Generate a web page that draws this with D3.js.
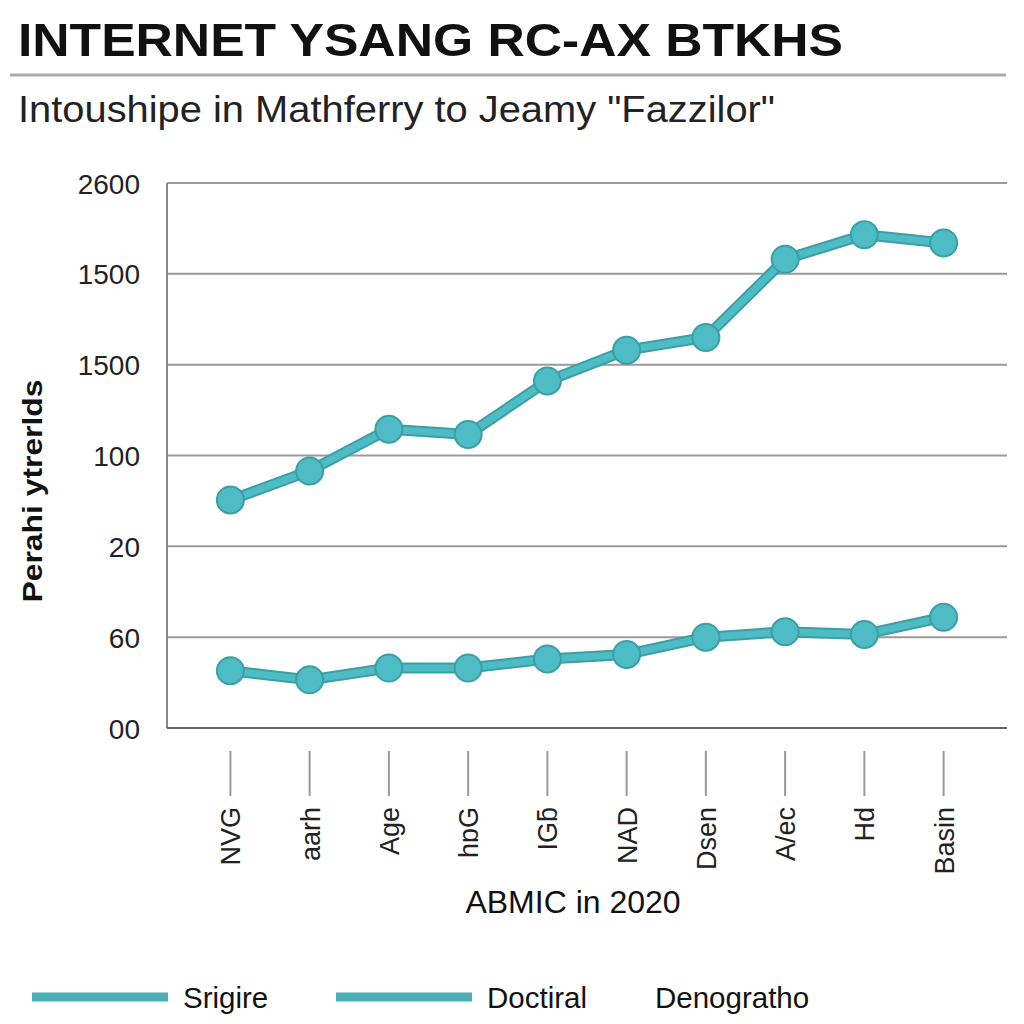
<!DOCTYPE html>
<html><head><meta charset="utf-8">
<script src="https://cdn.jsdelivr.net/npm/d3@7"></script>
<style>body{margin:0;background:#fff}svg{display:block}</style>
</head><body>
<script>
const categories = ["NVG","aarh","Age","hɒG","IGƃ","NAD","Dsen","A/ec","Hd","Basin"];
const upperSeries = [251, 283, 329, 323, 382, 416, 430, 516, 543, 534];
const lowerSeries = [63, 53, 66, 66, 76, 81, 100, 106, 103, 122];
const yTickValues = [0, 100, 200, 300, 400, 500, 600];
const yTickLabels = ["00", "60", "20", "100", "1500", "1500", "2600"];
const legendItems = ["Srigire", "Doctiral", "Denogratho"];

const W = 1024, H = 1024;
const svg = d3.select("body").append("svg").attr("width", W).attr("height", H);
const font = "'Liberation Sans', Arial, Helvetica, sans-serif";
const teal = "#4dbcc5", tealDark = "#3b9fa6";

const L = 167, R = 1007, T = 183, B = 728;
const x = d3.scalePoint().domain(categories).range([L, R]).padding(0.8);
const y = d3.scaleLinear().domain([0, 600]).range([B, T]);

// Title
svg.append("text").attr("x", 18).attr("y", 56).attr("font-family", font)
  .attr("font-weight", "bold").attr("font-size", 47).attr("fill", "#111")
  .attr("textLength", 825).attr("lengthAdjust", "spacingAndGlyphs")
  .text("INTERNET YSANG RC-AX BTKHS");
svg.append("line").attr("x1", 10).attr("x2", 1006).attr("y1", 75).attr("y2", 75)
  .attr("stroke", "#aaa").attr("stroke-width", 3);
svg.append("text").attr("x", 18).attr("y", 122).attr("font-family", font)
  .attr("font-size", 37).attr("fill", "#222")
  .attr("textLength", 757).attr("lengthAdjust", "spacingAndGlyphs")
  .text('Intoushipe in Mathferry to Jeamy "Fazzilor"');

// Grid
const grid = svg.append("g");
grid.selectAll("line").data(yTickValues.filter(v => v > 0)).join("line")
  .attr("x1", L).attr("x2", R).attr("y1", d => y(d)).attr("y2", d => y(d))
  .attr("stroke", "#9a9a9a").attr("stroke-width", 2);
svg.append("line").attr("x1", L).attr("x2", L).attr("y1", T).attr("y2", B)
  .attr("stroke", "#888").attr("stroke-width", 2);
svg.append("line").attr("x1", L).attr("x2", R).attr("y1", B).attr("y2", B)
  .attr("stroke", "#666").attr("stroke-width", 2);

// Y labels
const yAxis = d3.axisLeft(y).tickValues(yTickValues).tickSize(0).tickPadding(0)
  .tickFormat((d, i) => yTickLabels[i]);
const yg = svg.append("g").attr("transform", `translate(140,0)`).call(yAxis);
yg.select(".domain").remove();
yg.selectAll("text").attr("font-family", font).attr("font-size", 28).attr("fill", "#222")
  .attr("dy", "0.36em");

// Y title
svg.append("text").attr("transform", "translate(42,491) rotate(-90)")
  .attr("text-anchor", "middle").attr("font-family", font).attr("font-weight", "bold")
  .attr("font-size", 28).attr("fill", "#111")
  .attr("textLength", 223).attr("lengthAdjust", "spacingAndGlyphs")
  .text("Perahi ytrerlds");

// X ticks and labels
const xg = svg.append("g");
xg.selectAll("line").data(categories).join("line")
  .attr("x1", d => x(d)).attr("x2", d => x(d)).attr("y1", 751).attr("y2", 796)
  .attr("stroke", "#999").attr("stroke-width", 2);
xg.selectAll("text").data(categories).join("text")
  .attr("transform", d => `translate(${x(d) + 10},807) rotate(-90)`)
  .attr("text-anchor", "end").attr("font-family", font).attr("font-size", 27)
  .attr("fill", "#222").text(d => d);

svg.append("text").attr("x", 573).attr("y", 913).attr("text-anchor", "middle")
  .attr("font-family", font).attr("font-size", 32).attr("fill", "#111")
  .text("ABMIC in 2020");

// Series
const line = d3.line().x((d, i) => x(categories[i])).y(d => y(d));
[upperSeries, lowerSeries].forEach(s => {
  svg.append("path").datum(s).attr("d", line).attr("fill", "none")
    .attr("stroke", tealDark).attr("stroke-width", 11).attr("stroke-linejoin", "round");
  svg.append("path").datum(s).attr("d", line).attr("fill", "none")
    .attr("stroke", teal).attr("stroke-width", 7).attr("stroke-linejoin", "round");
  svg.append("g").selectAll("circle").data(s).join("circle")
    .attr("cx", (d, i) => x(categories[i])).attr("cy", d => y(d)).attr("r", 13.5)
    .attr("fill", teal).attr("stroke", tealDark).attr("stroke-width", 2);
});

// Legend
const lg = svg.append("g");
const legendX = [32, 336, 655];
legendItems.forEach((t, i) => {
  if (i < 2) {
    lg.append("line").attr("x1", legendX[i]).attr("x2", legendX[i] + 136)
      .attr("y1", 997).attr("y2", 997).attr("stroke", "#4aaeb4").attr("stroke-width", 9);
  }
  lg.append("text").attr("x", i < 2 ? legendX[i] + 151 : legendX[i]).attr("y", 1008)
    .attr("font-family", font).attr("font-size", 29.5).attr("fill", "#111").text(t);
});
</script>
</body></html>
